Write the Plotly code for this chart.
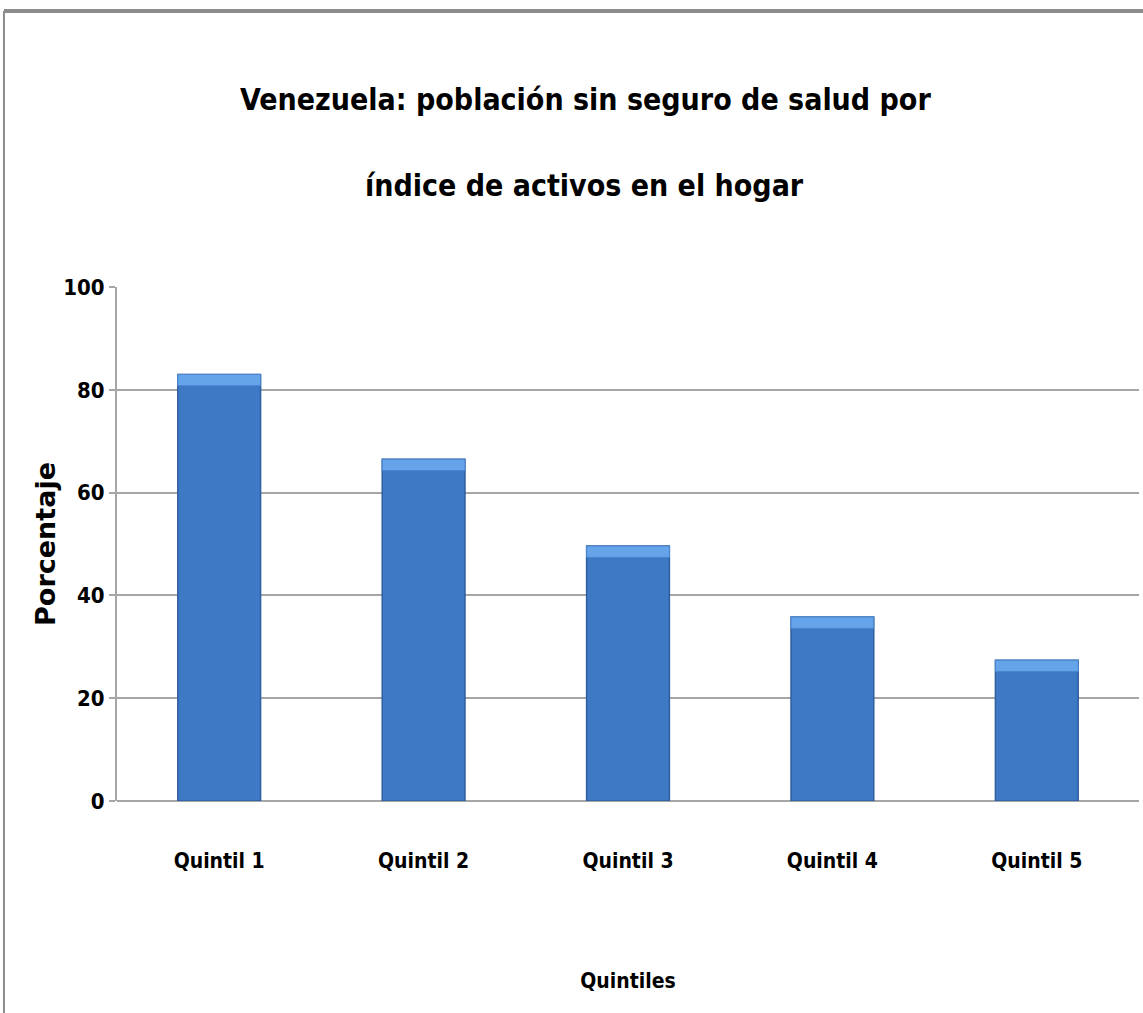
import plotly.graph_objects as go

# data
quintiles = ["Quintil 1", "Quintil 2", "Quintil 3", "Quintil 4", "Quintil 5"]
porcentaje = [83.0, 66.5, 49.6, 35.8, 27.4]
y_ticks = [0, 20, 40, 60, 80, 100]

narrow = "Liberation Sans Narrow, DejaVu Sans Condensed, Arial Narrow, sans-serif"

fig = go.Figure()

# main bars
fig.add_trace(go.Bar(
    x=quintiles,
    y=porcentaje,
    marker_color="#3d79c4",
    marker_line_color="#2f5f9f",
    marker_line_width=1.5,
    showlegend=False,
))

# light bevel on top of each bar
bevel = 2.2
fig.add_trace(go.Bar(
    x=quintiles,
    y=[bevel] * len(porcentaje),
    base=[v - bevel for v in porcentaje],
    marker_color="#66a4ea",
    marker_line_color="#4a86d0",
    marker_line_width=1,
    showlegend=False,
))

fig.update_layout(
    width=1143,
    height=1013,
    barmode="overlay",
    bargap=0.595,
    plot_bgcolor="white",
    paper_bgcolor="white",
    margin=dict(l=117, r=4, t=287, b=212),
    font=dict(family=narrow, color="black"),
)

fig.update_xaxes(
    showline=False,
    showgrid=False,
    ticks="",
    tickfont=dict(family=narrow, size=21, weight="bold"),
    ticklabelstandoff=45,
    title=dict(text="Quintiles", font=dict(family=narrow, size=21, weight="bold"),
               standoff=101),
)

fig.update_yaxes(
    range=[0, 100],
    tickvals=y_ticks,
    showline=True,
    linecolor="#a6a6a6",
    linewidth=2,
    showgrid=True,
    gridcolor="#a6a6a6",
    gridwidth=2,
    zeroline=True,
    zerolinecolor="#a6a6a6",
    zerolinewidth=2,
    ticks="outside",
    ticklen=6,
    tickcolor="#a6a6a6",
    tickwidth=2,
    tickfont=dict(family=narrow, size=22, weight="bold"),
    title=dict(text="Porcentaje", font=dict(family="DejaVu Sans", size=27, weight="bold"),
               standoff=0),
)

# two-line title
fig.add_annotation(text="Venezuela: población sin seguro de salud por",
                   xref="paper", yref="paper", x=0.458, y=1.364, showarrow=False,
                   xanchor="center", yanchor="middle",
                   font=dict(family=narrow, size=30, weight="bold"))
fig.add_annotation(text="índice de activos en el hogar",
                   xref="paper", yref="paper", x=0.457, y=1.198, showarrow=False,
                   xanchor="center", yanchor="middle",
                   font=dict(family=narrow, size=30, weight="bold"))

# frame lines at top and left of the page
fig.add_shape(type="line", xref="paper", yref="paper",
              x0=-0.1106, x1=1.01, y0=1.537, y1=1.537,
              line=dict(color="#8c8c8c", width=4))
fig.add_shape(type="line", xref="paper", yref="paper",
              x0=-0.1106, x1=-0.1106, y0=1.537, y1=-0.42,
              line=dict(color="#8c8c8c", width=2))

# drop the default 8px body margin so the figure fills the window
fig.write_html("out.html", config={"displayModeBar": False},
               post_script="document.body.style.margin='0';")
